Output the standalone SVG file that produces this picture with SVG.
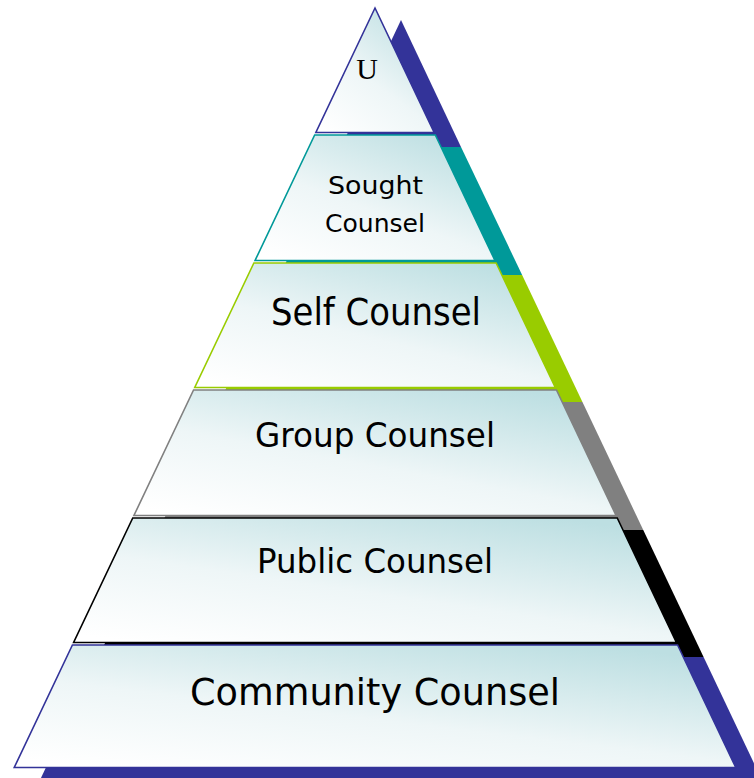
<svg xmlns="http://www.w3.org/2000/svg" width="754" height="778" viewBox="0 0 754 778">
  <defs>
    <linearGradient id="fillG" x1="0.1" y1="1" x2="0.8" y2="0">
      <stop offset="0" stop-color="#ffffff"/>
      <stop offset="0.45" stop-color="#eef6f7"/>
      <stop offset="1" stop-color="#bddfe2"/>
    </linearGradient>
  </defs>
  <style>
    .layer { fill: url(#fillG); stroke-width: 1.6; stroke-linejoin: miter; }
    .lbl { font-family: "DejaVu Sans", "Liberation Sans", sans-serif; fill: #000; text-anchor: start; }
  </style>
  <rect width="754" height="778" fill="#ffffff"/>
  <g id="shadow" transform="translate(26,12)">
    <polygon points="375,8 315,135 435,135" fill="#333399"/>
    <polygon points="315,135 435,135 496.13,263 253.87,263" fill="#009999"/>
    <polygon points="253.87,263 496.13,263 556.45,390 193.55,390" fill="#99cc00"/>
    <polygon points="193.55,390 556.45,390 617.25,518 132.75,518" fill="#808080"/>
    <polygon points="132.75,518 617.25,518 677.58,645 72.42,645" fill="#000000"/>
    <polygon points="72.42,645 677.58,645 736,768 14,768" fill="#333399"/>
  </g>
  <g id="layer-u">
    <polygon class="layer" points="375,8 434.14,132.5 315.86,132.5" stroke="#333399"/>
    <text x="367" y="79" font-family="Liberation Serif, serif" font-size="30" text-anchor="middle">U</text>
  </g>
  <g id="layer-sought">
    <polygon class="layer" points="314.67,135 435.33,135 494.94,260.5 255.06,260.5" stroke="#009999"/>
    <text class="lbl" x="328" y="194" font-size="25" textLength="95" lengthAdjust="spacingAndGlyphs">Sought</text>
    <text class="lbl" x="325" y="232" font-size="25" textLength="100" lengthAdjust="spacingAndGlyphs">Counsel</text>
  </g>
  <g id="layer-self">
    <polygon class="layer" points="253.87,263 496.13,263 555.26,387.5 194.74,387.5" stroke="#99cc00"/>
    <text class="lbl" x="271" y="325" font-size="37" textLength="210" lengthAdjust="spacingAndGlyphs">Self Counsel</text>
  </g>
  <g id="layer-group">
    <polygon class="layer" points="193.55,390 556.45,390 616.06,515.5 133.94,515.5" stroke="#808080"/>
    <text class="lbl" x="255" y="447" font-size="33" textLength="240" lengthAdjust="spacingAndGlyphs">Group Counsel</text>
  </g>
  <g id="layer-public">
    <polygon class="layer" points="132.75,518 617.25,518 676.39,642.5 73.61,642.5" stroke="#000000"/>
    <text class="lbl" x="257" y="573" font-size="33" textLength="236" lengthAdjust="spacingAndGlyphs">Public Counsel</text>
  </g>
  <g id="layer-community">
    <polygon class="layer" points="72.42,645 677.58,645 735.76,767.5 14.24,767.5" stroke="#333399"/>
    <text class="lbl" x="190" y="705" font-size="38" textLength="370" lengthAdjust="spacingAndGlyphs">Community Counsel</text>
  </g>
</svg>
